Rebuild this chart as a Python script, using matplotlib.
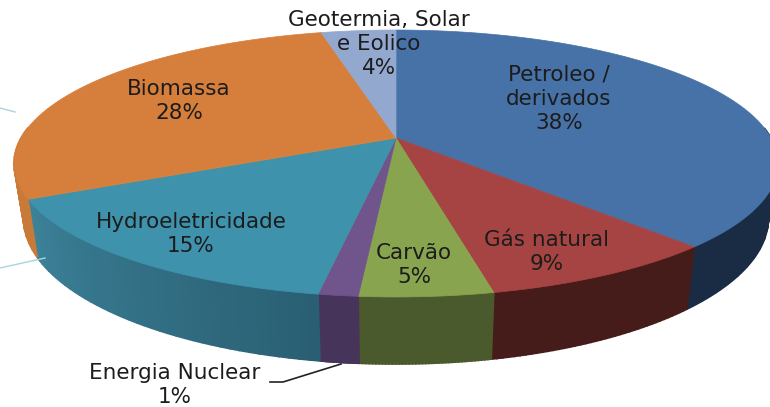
# plot.py - 3D looking energy mix pie

import numpy as np
import matplotlib
matplotlib.use("Agg")
import matplotlib.pyplot as plt
from matplotlib.patches import Polygon

names = ["Petroleo /\nderivados", "Gás natural", "Carvão", "Energia Nuclear",
         "Hydroeletricidade", "Biomassa", "Geotermia, Solar\ne Eolico"]
values = [38.0, 8.6, 4.7, 1.4, 15.1, 28.4, 3.8]
percent_labels = ["38%", "9%", "5%", "1%", "15%", "28%", "4%"]

top_colors = ["#4672A8", "#A54442", "#88A44E", "#70548C", "#3E92AC", "#D67E3B", "#93A8CE"]
wall_left = ["#1A2C44", "#451C1A", "#4A5A2C", "#47345A", "#3C8299", "#C87A38", "#93A8CE"]
wall_right = ["#1A2C44", "#451C1A", "#4A5A2C", "#47345A", "#2A5F73", "#C87A38", "#93A8CE"]

label_xy = [(559, 99), (547, 252), (414, 265), (175, 385), (191, 234), (179, 101), (379, 44)]

# perspective of the disc, in pixels
CX, CY = 396, 138
A, B, K = 375, 128.6, 0.191


def project(theta):
    # theta in radians, clockwise from the top of the disc
    u, v = np.sin(theta), np.cos(theta)
    w = 1 + K * v
    return CX + A * u / w, CY - B * v / w


def project_bottom(theta):
    x, y = project(theta)
    return 394 + 0.975 * (x - 394), 1.093 * y + 39.4


def mix(c1, c2, t):
    a = np.array(matplotlib.colors.to_rgb(c1))
    b = np.array(matplotlib.colors.to_rgb(c2))
    return tuple(a + (b - a) * t)


fig = plt.figure(figsize=(7.7, 4.07), dpi=100)
ax = fig.add_axes([0, 0, 1, 1])
ax.set_xlim(0, 770)
ax.set_ylim(407, 0)
ax.axis("off")

edges = np.cumsum([0] + values) / sum(values) * 2 * np.pi

# side wall first, the top face covers whatever is hidden
for i in range(len(values)):
    n = 40
    ts = np.linspace(edges[i], edges[i + 1], n + 1)
    for j in range(n):
        # back of the disc has no visible wall
        if np.cos((ts[j] + ts[j + 1]) / 2) > 0.1:
            continue
        tt = np.linspace(ts[j], ts[j + 1], 4)
        xt, yt = project(tt)
        xb, yb = project_bottom(tt[::-1])
        # colour runs left to right on screen, so flip t
        col = mix(wall_right[i], wall_left[i], (j + 0.5) / n)
        ax.add_patch(Polygon(np.column_stack([np.r_[xt, xb], np.r_[yt, yb]]),
                             facecolor=col, edgecolor=col, linewidth=1.2, zorder=1 + i * 0.01))

for i in range(len(values)):
    tt = np.linspace(edges[i], edges[i + 1], 200)
    xt, yt = project(tt)
    ax.add_patch(Polygon(np.column_stack([np.r_[CX, xt], np.r_[CY, yt]]),
                         facecolor=top_colors[i], edgecolor=top_colors[i],
                         linewidth=0.5, zorder=2))

# leader lines
ax.plot([0, 15], [108, 112], color="#A9D3DC", lw=1, zorder=3)
ax.plot([0, 45], [268, 258], color="#A9D3DC", lw=1, zorder=3)
ax.plot([270, 283, 341], [382, 382, 364], color="#222222", lw=1.2, zorder=3)

for name, pct, (x, y) in zip(names, percent_labels, label_xy):
    ax.text(x, y, name + "\n" + pct, ha="center", va="center", fontsize=15.5,
            color="#1c1c1c", linespacing=1.25, family="DejaVu Sans", zorder=4)

fig.savefig("out.png", dpi=100)
